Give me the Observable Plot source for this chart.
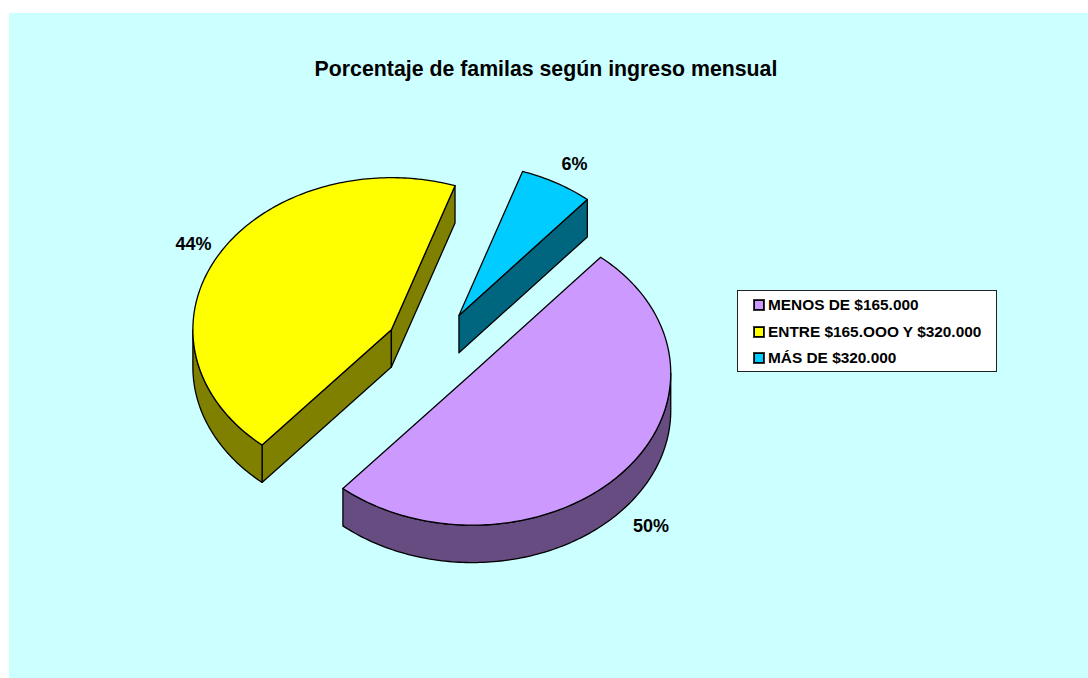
<!DOCTYPE html>
<html lang="es">
<head>
<meta charset="utf-8">
<script src="https://cdn.jsdelivr.net/npm/d3@7"></script>
<script src="https://cdn.jsdelivr.net/npm/@observablehq/plot@0.6"></script>
<style>
html,body{margin:0;padding:0;background:#fff;width:1088px;height:678px;overflow:hidden}
#panel{position:absolute;left:9px;top:13px;width:1079px;height:665px;background:#ccffff}
#chart{position:absolute;left:0;top:0;width:1088px;height:678px}
#chart svg{display:block}
#title{position:absolute;left:9px;width:1074px;top:58px;text-align:center;font:bold 21.3px "Liberation Sans",Arial,sans-serif;color:#000;line-height:22px}
#legend{position:absolute;left:737px;top:290px;width:258px;height:80px;background:#fff;border:1px solid #222;box-sizing:content-box;font:bold 15.4px "Liberation Sans",Arial,sans-serif;color:#000}
#legend .row{position:absolute;left:0;height:16px;line-height:16px;white-space:nowrap}
#legend .sw{position:absolute;left:16px;top:2px;width:8px;height:8px;border:1px solid #000;outline:0.5px solid #333}
#legend .tx{position:absolute;left:30px;top:-1px}
</style>
</head>
<body>
<div id="panel"></div>
<div id="chart"></div>
<div id="title"></div>
<div id="legend"></div>
<script>
const chartTitle = "Porcentaje de familas según ingreso mensual";
const categories = ["MENOS DE $165.000", "ENTRE $165.OOO Y $320.000", "MÁS DE $320.000"];
const shares = [50.1, 43.9, 6.0];
const topColors = ["#cc99ff", "#ffff00", "#00ccff"];
const sideColors = ["#664c80", "#808000", "#006680"];

// Pie geometry, in pie-radius units (the x and y scales turn them into pixels)
const firstAngle = 40.3, explode = 0.25, depth = 37.4 / 152;
const originX = 434, originY = 348, radiusX = 198.5, radiusY = 152;
// Label anchors, in the same units, per slice
const labelX = [(650.5 - originX) / radiusX, (193 - originX) / radiusX, (574 - originX) / radiusX];
const labelY = [(525.5 - originY) / radiusY, (243.5 - originY) / radiusY, (163.5 - originY) / radiusY];

const rad = d => d * Math.PI / 180;
const total = d3.sum(shares);
const pieces = [];
let start = firstAngle;
const slices = shares.map((s, i) => {
  const a0 = start, a1 = start + s / total * 360;
  start = a1;
  const mid = rad((a0 + a1) / 2);
  return {i, a0, a1, cx: explode * Math.sin(mid), cy: -explode * Math.cos(mid)};
});
const rimPoint = (s, a, dy = 0) => ({x: s.cx + Math.sin(rad(a)), y: s.cy - Math.cos(rad(a)) + dy});
const arc = (s, from, to, dy = 0) => {
  const n = Math.max(2, Math.ceil(Math.abs(to - from)));
  return d3.range(n + 1).map(k => rimPoint(s, from + (to - from) * k / n, dy));
};
let id = 0;
const add = (pts, fill) => { const z = id++; pts.forEach(p => pieces.push({...p, z, fill})); };

// Back to front: the smallest slice, then the left one, then the front one
[2, 1, 0].forEach(i => {
  const s = slices[i], apex = {x: s.cx, y: s.cy};
  const wall = a => {
    const e = rimPoint(s, a);
    add([apex, e, {x: e.x, y: e.y + depth}, {x: apex.x, y: apex.y + depth}], sideColors[i]);
  };
  if (-Math.sin(rad(s.a0)) > 0) wall(s.a0);
  if (Math.sin(rad(s.a1)) > 0) wall(s.a1);
  // outer rim: the part of the arc that faces down
  for (const offset of [0, 360]) {
    const from = Math.max(s.a0, 90 + offset), to = Math.min(s.a1, 270 + offset);
    if (to > from) add([...arc(s, from, to), ...arc(s, to, from, depth)], sideColors[i]);
  }
  add([apex, ...arc(s, s.a0, s.a1)], topColors[i]);
});

const labels = shares.map((s, i) => ({x: labelX[i], y: labelY[i], text: Math.round(s) + "%"}));

const plot = Plot.plot({
  width: 1088, height: 678,
  margin: 0,
  style: {background: "transparent"},
  x: {axis: null, domain: [-originX / radiusX, (1088 - originX) / radiusX], range: [0, 1088]},
  y: {axis: null, domain: [-originY / radiusY, (678 - originY) / radiusY], range: [0, 678]},
  color: {type: "identity"},
  marks: [
    Plot.line(pieces, {x: "x", y: "y", z: "z", fill: "fill", stroke: "#000", strokeWidth: 1.3,
      curve: "linear-closed", strokeLinejoin: "round"}),
    Plot.text(labels, {x: "x", y: "y", text: "text", fontSize: 18, fontWeight: "bold",
      fontFamily: "Liberation Sans, Arial, sans-serif", fill: "#000"})
  ]
});
document.getElementById("chart").appendChild(plot);
document.getElementById("title").textContent = chartTitle;

const rowTops = [7, 34, 60];
const legend = d3.select("#legend");
categories.forEach((c, i) => {
  const row = legend.append("div").attr("class", "row").style("top", rowTops[i] + "px");
  row.append("div").attr("class", "sw").style("background", topColors[i]);
  row.append("div").attr("class", "tx").text(c);
});
</script>
</body>
</html>
